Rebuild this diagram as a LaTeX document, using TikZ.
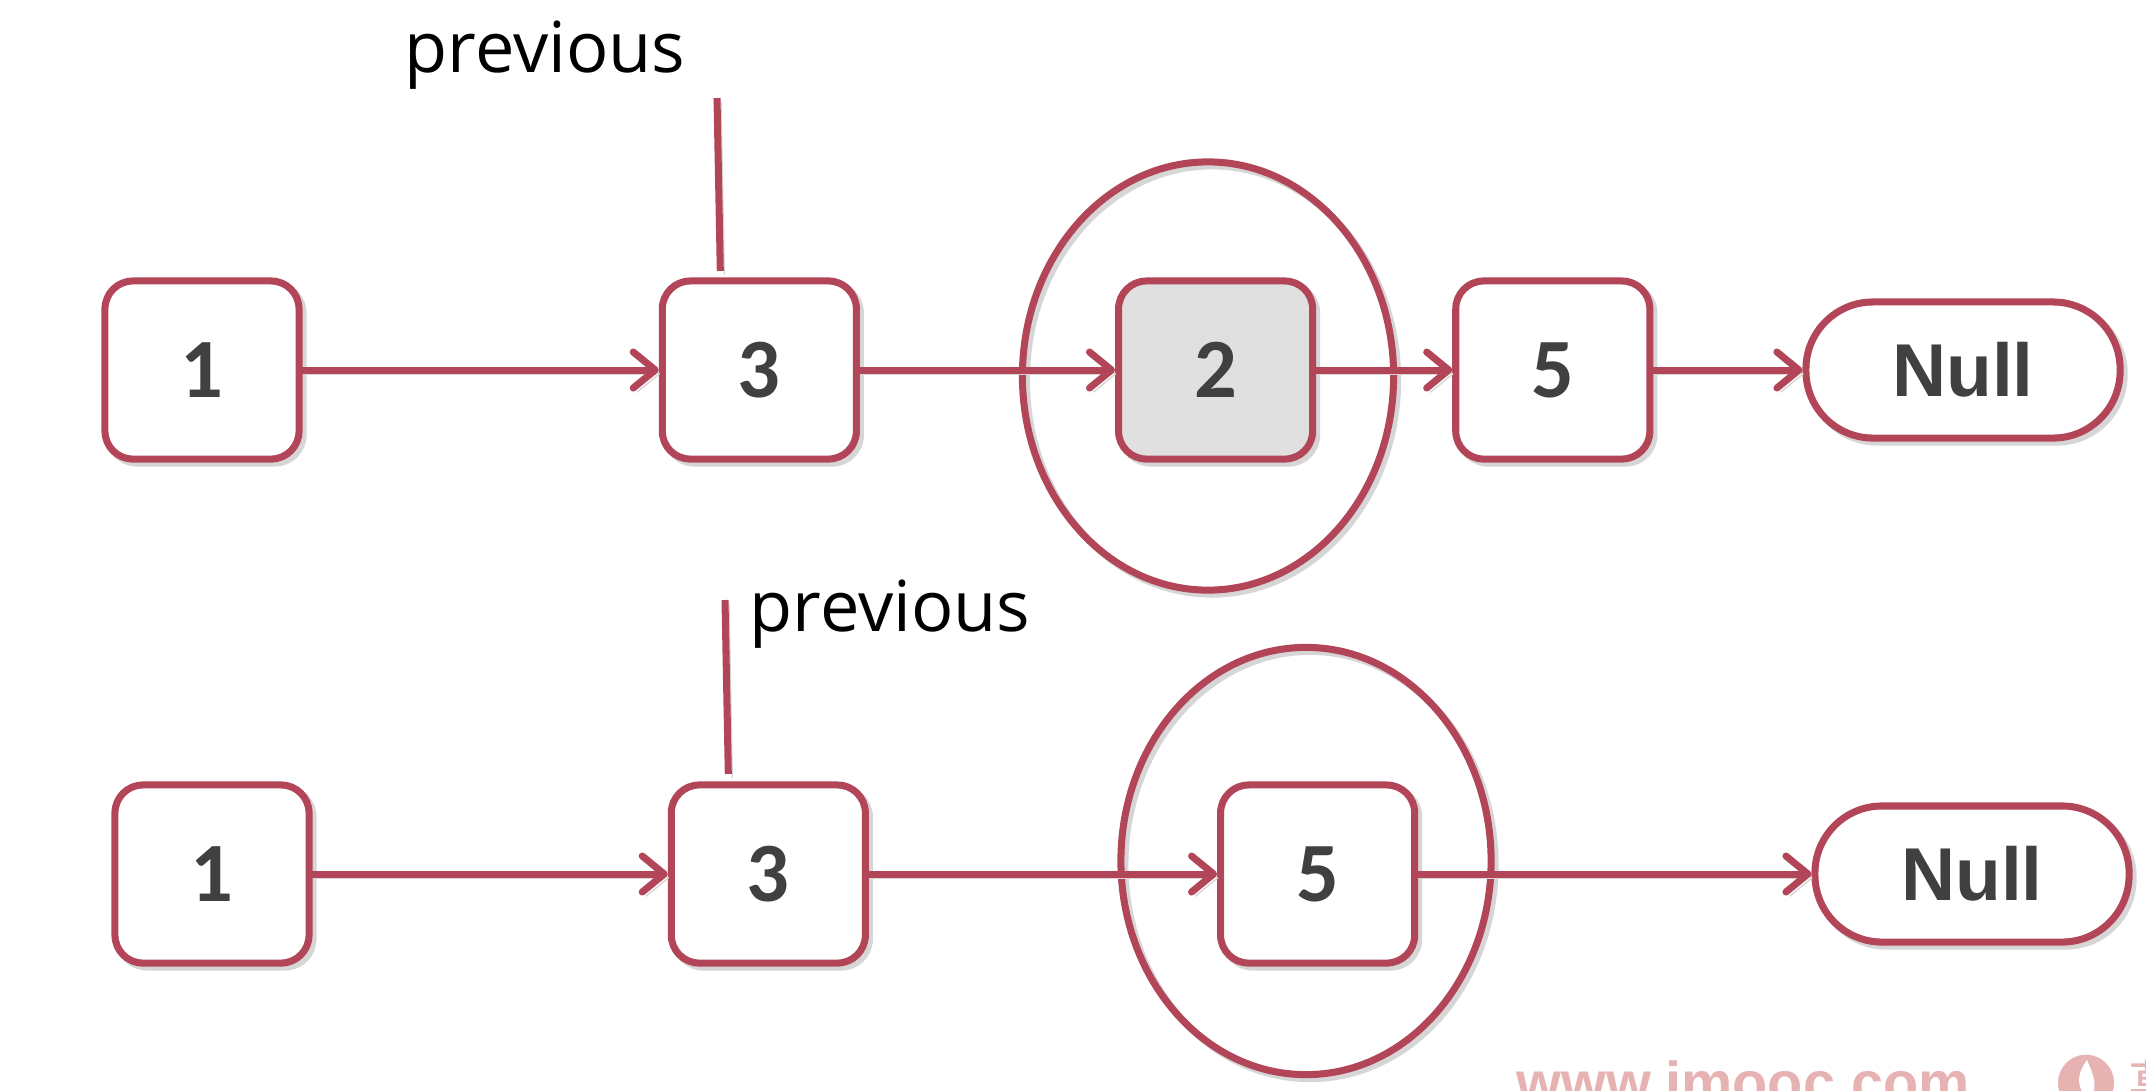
\documentclass[tikz,border=0pt]{standalone}
\usepackage{fontspec}
\setmainfont{Open Sans}
\newfontfamily\digitfont{Carlito}
\newfontfamily\markfont{Liberation Sans}
\newfontfamily\cjkfont{Noto Sans CJK SC}
\usetikzlibrary{arrows.meta,positioning,shapes.geometric}
\definecolor{linkred}{HTML}{B24658}
\definecolor{digitgray}{HTML}{404040}
\definecolor{markpink}{HTML}{E6B2B2}
\tikzset{
	softshade/.style={preaction={draw=black!16, fill=none, transform canvas={xshift=0.04cm, yshift=-0.04cm}}},
	listbox/.style={draw=linkred, line width=2pt, fill=white, rounded corners=0.28cm, minimum width=1.94cm, minimum height=1.78cm, inner sep=0pt, outer sep=0pt, text=digitgray, font=\fontsize{24}{28}\digitfont\bfseries, softshade},
	nullbox/.style={listbox, rounded corners=0.67cm, minimum width=3.14cm, minimum height=1.36cm, font=\fontsize{21.3}{25}\markfont\bfseries},
	ringnode/.style={draw=linkred, line width=2pt, ellipse, inner sep=0pt, softshade},
	prevlabel/.style={text=black, inner sep=0pt, font=\fontsize{20}{24}\selectfont, anchor=base west},
	pointer/.style={draw=linkred, line width=2pt, softshade},
}
\begin{document}
\begin{tikzpicture}[x=0.01cm, y=-0.01cm, on grid, >={Straight Barb[length=0.22cm, width=0.36cm, line width=2pt, round]}]
	\clip (0,0) rectangle (2146,1090);
	\fill [white] (0,0) rectangle (2146,1090);

	% first list
	\node 	(a1) 	[listbox] at (202,370)			{1};
	\node 	(a3) 	[listbox, right=5.57cm of a1]		{3};
	\node 	(a2) 	[listbox, right=4.56cm of a3, fill=black!12]	{2};
	\node 	(a5) 	[listbox, right=3.37cm of a2]		{5};
	\node 	(anull)	[nullbox, right=4.10cm of a5]		{Null};
	\node 	(ring1)	[ringnode, minimum width=3.71cm, minimum height=4.28cm] at (1208,376) {};

	% second list
	\node 	(b1) 	[listbox] at (212,874)			{1};
	\node 	(b3) 	[listbox, right=5.56cm of b1]		{3};
	\node 	(b5) 	[listbox, right=5.49cm of b3]		{5};
	\node 	(bnull)	[nullbox, right=6.54cm of b5]		{Null};
	\node 	(ring2)	[ringnode, minimum width=3.70cm, minimum height=4.27cm] at (1306,861) {};

	\path [->, every edge/.style={draw=linkred, line width=2pt, shorten >=1pt, softshade}]
	(a1)	edge		(a3)
	(a3)	edge		(a2)
	(a2)	edge		(a5)
	(a5)	edge		(anull)
	(b1)	edge		(b3)
	(b3)	edge		(b5)
	(b5)	edge		(bnull)
	;

	% previous pointers
	\coordinate (ptop1) at (717,98);
	\coordinate (ptop2) at (725,600);
	\draw [pointer] (ptop1) -- ([xshift=-0.39cm, yshift=0.10cm]a3.north);
	\draw [pointer] (ptop2) -- ([xshift=-0.40cm, yshift=0.11cm]b3.north);
	\node 	(prev1)	[prevlabel] at (404,72)		{previous};
	\node 	(prev2)	[prevlabel] at (749,631)	{previous};

	% watermark
	\node 	(site)	[text=markpink, inner sep=0pt, anchor=base west, font=\fontsize{16.4}{18}\markfont\bfseries] at (1516,1102) {www.imooc.com};
	\node 	(flame)	[circle, fill=markpink, minimum size=0.56cm, inner sep=0pt, anchor=north] at (2086,1054) {};
	\fill [white] (2087,1060) .. controls (2078,1072) and (2076,1084) .. (2084,1094) -- (2092,1094) .. controls (2098,1084) and (2092,1072) .. (2087,1060);
	\node 	(brand)	[text=markpink, inner sep=0pt, anchor=north west, font=\fontsize{16}{18}\cjkfont] at (2128,1060) {慕};
\end{tikzpicture}
\end{document}
